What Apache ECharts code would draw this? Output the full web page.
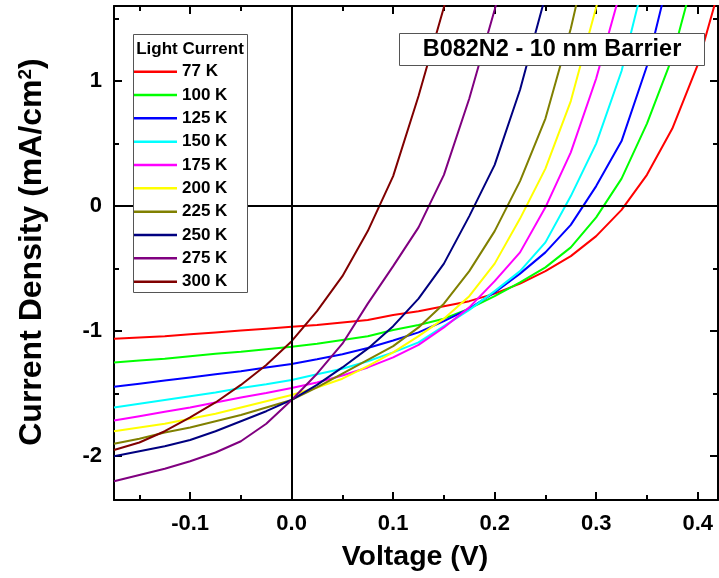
<!DOCTYPE html>
<html>
<head>
<meta charset="utf-8">
<script src="https://cdn.jsdelivr.net/npm/echarts@6/dist/echarts.min.js"></script>
<style>
  html, body { margin: 0; padding: 0; background: #fff; }
  #chart { width: 719px; height: 578px; }
</style>
</head>
<body>
<div id="chart"></div>
<script>
// Bias voltage sample points (V)
const voltage = [-0.175, -0.15, -0.125, -0.1, -0.075, -0.05, -0.025, 0, 0.025, 0.05,
                 0.075, 0.1, 0.125, 0.15, 0.175, 0.2, 0.225, 0.25, 0.275, 0.3,
                 0.325, 0.35, 0.375, 0.4, 0.425];

// Temperatures of the illuminated J-V sweeps
const temperatures = ['77 K', '100 K', '125 K', '150 K', '175 K', '200 K', '225 K', '250 K', '275 K', '300 K'];

// Current density (mA/cm^2) for each temperature, one value per voltage point
const j77K  = [-1.06, -1.05, -1.04, -1.025, -1.01, -0.995, -0.98, -0.965, -0.95, -0.93, -0.91, -0.87, -0.84, -0.80, -0.76, -0.70, -0.62, -0.52, -0.40, -0.24, -0.03, 0.25, 0.62, 1.13, 1.85];
const j100K = [-1.25, -1.235, -1.22, -1.20, -1.18, -1.165, -1.145, -1.125, -1.10, -1.07, -1.04, -0.99, -0.95, -0.90, -0.82, -0.72, -0.61, -0.49, -0.33, -0.09, 0.22, 0.66, 1.19, 1.95];
const j125K = [-1.445, -1.42, -1.395, -1.37, -1.345, -1.32, -1.29, -1.262, -1.225, -1.185, -1.135, -1.075, -1.01, -0.92, -0.82, -0.69, -0.54, -0.37, -0.15, 0.16, 0.52, 1.12, 1.95];
const j150K = [-1.61, -1.58, -1.55, -1.52, -1.49, -1.455, -1.425, -1.39, -1.345, -1.30, -1.24, -1.17, -1.09, -0.96, -0.83, -0.68, -0.52, -0.29, 0.08, 0.50, 1.08, 1.90];
const j175K = [-1.715, -1.68, -1.645, -1.61, -1.57, -1.53, -1.495, -1.455, -1.41, -1.355, -1.29, -1.21, -1.11, -0.97, -0.81, -0.60, -0.37, -0.01, 0.43, 1.02, 1.75];
const j200K = [-1.80, -1.77, -1.74, -1.70, -1.66, -1.61, -1.56, -1.51, -1.45, -1.38, -1.28, -1.17, -1.04, -0.90, -0.72, -0.46, -0.10, 0.30, 0.84, 1.59, 2.40];
const j225K = [-1.90, -1.86, -1.81, -1.77, -1.72, -1.67, -1.61, -1.55, -1.45, -1.34, -1.23, -1.12, -0.97, -0.78, -0.52, -0.20, 0.20, 0.70, 1.42, 2.30];
const j250K = [-2.00, -1.96, -1.92, -1.87, -1.80, -1.72, -1.64, -1.55, -1.43, -1.29, -1.14, -0.96, -0.74, -0.46, -0.08, 0.33, 0.93, 1.68];
const j275K = [-2.20, -2.15, -2.10, -2.04, -1.97, -1.88, -1.74, -1.55, -1.34, -1.10, -0.78, -0.48, -0.17, 0.25, 0.86, 1.57, 2.35];
const j300K = [-1.95, -1.89, -1.80, -1.69, -1.57, -1.43, -1.27, -1.08, -0.84, -0.56, -0.20, 0.24, 0.88, 1.59, 2.40];

// Tick positions
const xMajorTicks = [-0.1, 0, 0.1, 0.2, 0.3, 0.4];
const xMinorTicks = [-0.15, -0.05, 0.05, 0.15, 0.25, 0.35];
const yMajorTicks = [-2, -1, 0, 1];
const yMinorTicks = [-1.5, -0.5, 0.5, 1.5];

const currentSets = [j77K, j100K, j125K, j150K, j175K, j200K, j225K, j250K, j275K, j300K];
const lineColors = ['#ff0000', '#00ff00', '#0000ff', '#00ffff', '#ff00ff',
                    '#ffff00', '#808000', '#000080', '#800080', '#800000'];

const FONT = '"Liberation Sans", Arial, sans-serif';
const X_RANGE = { min: -0.175, max: 0.42 };
const Y_RANGE = { min: -2.35, max: 1.6 };

function frameAxis(position, ticks, len, showLine, labels) {
  const horizontal = position === 'bottom' || position === 'top';
  return {
    type: 'value',
    position: position,
    min: horizontal ? X_RANGE.min : Y_RANGE.min,
    max: horizontal ? X_RANGE.max : Y_RANGE.max,
    axisLine: { show: showLine, onZero: false, lineStyle: { color: '#000', width: 2 } },
    axisTick: { show: true, inside: true, length: len, customValues: ticks,
                lineStyle: { color: '#000', width: 2 } },
    axisLabel: labels ? Object.assign({ customValues: ticks }, labels) : { show: false },
    splitLine: { show: false },
    silent: true
  };
}

const tickLabelStyle = { color: '#000', fontFamily: FONT, fontWeight: 'bold', fontSize: 22 };

const series = temperatures.map((name, i) => ({
  name: name,
  type: 'line',
  xAxisIndex: 0,
  yAxisIndex: 0,
  data: currentSets[i].map((j, k) => [voltage[k], j]),
  symbol: 'none',
  showSymbol: false,
  clip: true,
  lineStyle: { color: lineColors[i], width: 2 },
  itemStyle: { color: lineColors[i] },
  emphasis: { disabled: true },
  animation: false
}));

// zero reference lines through the origin
series[0].markLine = {
  silent: true,
  symbol: ['none', 'none'],
  label: { show: false },
  animation: false,
  lineStyle: { color: '#000', width: 2, type: 'solid' },
  emphasis: { disabled: true },
  data: [{ xAxis: 0 }, { yAxis: 0 }]
};

const option = {
  backgroundColor: '#fff',
  animation: false,
  grid: { left: 114, right: 1, top: 6, bottom: 78, containLabel: false },
  xAxis: [
    frameAxis('bottom', xMajorTicks, 8, true,
      Object.assign({ margin: 13, formatter: v => v.toFixed(1) }, tickLabelStyle)),
    frameAxis('bottom', xMinorTicks, 5, false, null),
    frameAxis('top', xMajorTicks, 8, true, null),
    frameAxis('top', xMinorTicks, 5, false, null)
  ],
  yAxis: [
    frameAxis('left', yMajorTicks, 8, true,
      Object.assign({ margin: 12, formatter: v => String(v) }, tickLabelStyle)),
    frameAxis('left', yMinorTicks, 5, false, null),
    frameAxis('right', yMajorTicks, 8, true, null),
    frameAxis('right', yMinorTicks, 5, false, null)
  ],
  legend: {
    orient: 'vertical',
    left: 134,
    top: 63.2,
    padding: 0,
    icon: 'rect',
    itemWidth: 43,
    itemHeight: 2.5,
    itemGap: 6.33,
    selectedMode: false,
    z: 60,
    textStyle: { color: '#000', fontFamily: FONT, fontWeight: 'bold', fontSize: 17 },
    data: temperatures
  },
  graphic: [
    { type: 'rect', z: 50, silent: true,
      shape: { x: 133.5, y: 34.5, width: 114, height: 258 },
      style: { fill: '#fff', stroke: '#555', lineWidth: 1 } },
    { type: 'text', z: 51, silent: true, x: 190, y: 49,
      style: { text: 'Light Current', fill: '#000', font: 'bold 17px ' + FONT,
               align: 'center', verticalAlign: 'middle' } },
    { type: 'rect', z: 50, silent: true,
      shape: { x: 399.5, y: 33.5, width: 305, height: 32 },
      style: { fill: '#fff', stroke: '#555', lineWidth: 1 } },
    { type: 'text', z: 51, silent: true, x: 552, y: 50,
      style: { text: 'B082N2 - 10 nm Barrier', fill: '#000', font: 'bold 23.5px ' + FONT,
               align: 'center', verticalAlign: 'middle' } },
    { type: 'text', z: 51, silent: true, x: 415, y: 557,
      style: { text: 'Voltage (V)', fill: '#000', font: 'bold 28.5px ' + FONT,
               align: 'center', verticalAlign: 'middle' } },
    { type: 'text', z: 51, silent: true, x: 32, y: 252, rotation: Math.PI / 2,
      style: {
        text: '{a|Current Density (mA/cm}{s|2}{a|)}',
        align: 'center', verticalAlign: 'middle',
        rich: {
          a: { fill: '#000', fontFamily: FONT, fontWeight: 'bold', fontSize: 32 },
          s: { fill: '#000', fontFamily: FONT, fontWeight: 'bold', fontSize: 19, verticalAlign: 'top' }
        }
      } }
  ],
  series: series
};

const chart = echarts.init(document.getElementById('chart'), null, { renderer: 'canvas' });
chart.setOption(option);
</script>
</body>
</html>
